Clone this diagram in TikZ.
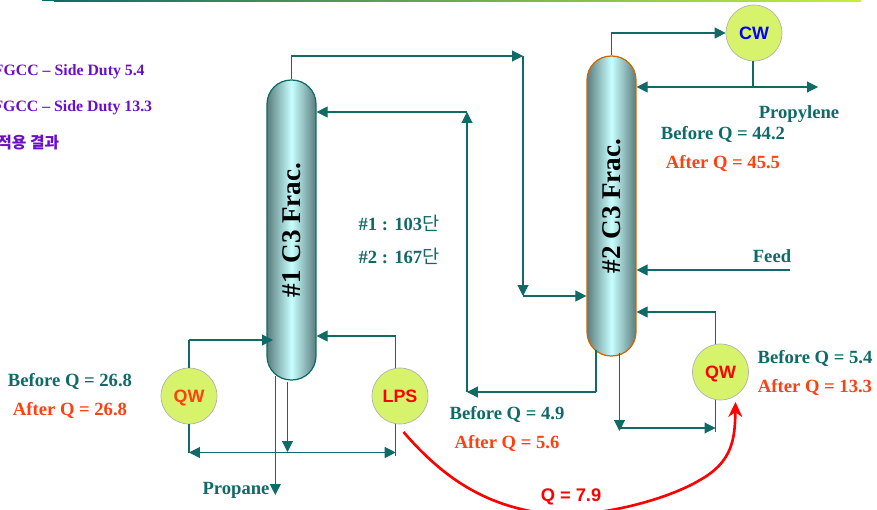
\documentclass[tikz,border=0pt]{standalone}
\usepackage{fontspec}
\usepackage{amsmath}
\setmainfont{Liberation Serif}
\newfontfamily\krfont{Noto Sans CJK KR}
\newfontfamily\labelfont{Liberation Sans}
\usetikzlibrary{arrows.meta}
\definecolor{flowteal}{HTML}{0F6A68}
\definecolor{afterred}{HTML}{FF4010}
\definecolor{duty}{HTML}{6A0FC8}
\definecolor{utilfill}{HTML}{D7F26B}
\definecolor{colfill}{HTML}{C8FFFF}
\definecolor{coledge}{HTML}{5C7D7E}
\definecolor{barstart}{HTML}{0F6A68}
\definecolor{barend}{HTML}{C8EE38}
\tikzset{
  flowline/.style={color=flowteal, line width=0.6pt, >={Triangle[length=0.22cm,width=0.22cm]}},
  tower/.style={rectangle, rounded corners=0.48cm, minimum width=0.98cm, minimum height=6cm,
    left color=coledge, right color=coledge, middle color=colfill, line width=0.7pt,
    font=\bfseries\fontsize{15.4}{16}\selectfont, inner sep=0pt},
  util/.style={circle, draw=black!30, fill=utilfill, minimum size=1.12cm, inner sep=0pt,
    text height=7.3pt, text depth=0pt,
    font=\labelfont\bfseries\fontsize{10.2}{12}\selectfont},
  beforeq/.style={color=flowteal, inner sep=0pt, yshift=-0.03cm, font=\bfseries\fontsize{10.6}{12}\selectfont},
  afterq/.style={color=afterred, inner sep=0pt, yshift=-0.03cm, font=\bfseries\fontsize{10.6}{12}\selectfont},
  dutytext/.style={color=duty, inner sep=0pt, anchor=east, yshift=-0.03cm, font=\bfseries\fontsize{9}{11}\selectfont}
}
\begin{document}
\begin{tikzpicture}[x=0.02cm, y=-0.02cm]
  \path[use as bounding box, clip] (0, 0) rectangle (877, 510);

  % top rule
  \fill[barstart] (42, 0) rectangle (54, 1);
  \fill[left color=barstart, right color=barend] (54, 0) rectangle (861, 2);

  % towers
  \node (tower1) at (291.5, 230) [tower, draw=flowteal] {\rotatebox{90}{\#1 C3 Frac.}};
  \node (tower2) at (611.5, 206) [tower, draw=orange!80!black] {\rotatebox{90}{\#2 C3 Frac.}};

  % utilities
  \node (qw1) at (189, 396) [util, text=afterred] {QW};
  \node (lps) at (400, 396) [util, text=red] {LPS};
  \node (qw2) at (720.5, 372) [util, text=red] {QW};
  \node (cw) at (754, 33) [util, text=blue] {CW};

  % free ends and bends
  \coordinate (over1) at (523, 56);
  \coordinate (over2) at (523, 296);
  \coordinate (ret1) at (467, 112);
  \coordinate (ret2) at (467, 392);
  \coordinate (tray1a) at (596, 392);
  \coordinate (tray1b) at (596, 350);
  \coordinate (bot2a) at (619.5, 353);
  \coordinate (bot2b) at (619.5, 431);
  \coordinate (bot2c) at (619.5, 428);
  \coordinate (qw2down) at (715.5, 400);
  \coordinate (qw2end) at (715.5, 432);
  \coordinate (qw2mid) at (715.5, 428);
  \coordinate (qw2up) at (715.5, 344);
  \coordinate (qw2top) at (715.5, 312);
  \coordinate (cwdown) at (753, 61);
  \coordinate (cwmid) at (753, 87);
  \coordinate (propylene) at (818, 87);
  \coordinate (feedin) at (790, 270);
  \coordinate (qw1top) at (189, 340);
  \coordinate (qw1tip) at (273, 340);
  \coordinate (qw1low) at (189, 452.5);
  \coordinate (lpsup) at (395.7, 368);
  \coordinate (lpstop) at (395.7, 336);
  \coordinate (lpsdown) at (395.7, 424);
  \coordinate (lpslow) at (395.7, 452.5);
  \coordinate (lpsend) at (395.7, 456);
  \coordinate (prod1a) at (275.3, 376);
  \coordinate (prod1b) at (275.3, 495);
  \coordinate (bot1a) at (287.5, 382);
  \coordinate (bot1b) at (287.5, 452);

  % tower 1 overhead to tower 2
  \draw[flowline, ->] (tower1.north) |- (over1);
  \draw[flowline, ->] (over1) -- (over2);
  \draw[flowline, ->] (over2) -- (over2 -| tower2.west);

  % tower 2 side draw back to tower 1
  \draw[flowline] (tray1b) -- (tray1a);
  \draw[flowline, ->] (tray1a) -- (ret2);
  \draw[flowline, ->] (ret2) -- (ret1);
  \draw[flowline, ->] (ret1) -- (ret1 -| tower1.east);

  % tower 2 top
  \draw[flowline, ->] (tower2.north) |- (cw.west);
  \draw[flowline] (cwdown) -- (cwmid);
  \draw[flowline, <->] (cwmid -| tower2.east) -- (propylene);
  \draw[flowline, ->] (feedin) -- (feedin -| tower2.east);

  % tower 2 reboiler
  \draw[flowline, ->] (bot2a) -- (bot2b);
  \draw[flowline, ->] (bot2c) -- (qw2mid);
  \draw[flowline] (qw2down) -- (qw2end);
  \draw[flowline] (qw2up) -- (qw2top);
  \draw[flowline, ->] (qw2top) -- (qw2top -| tower2.east);

  % tower 1 reboilers
  \draw[flowline] (qw1.north) -- (qw1top);
  \draw[flowline, ->] (qw1top) -- (qw1tip);
  \draw[flowline] (lpsup) -- (lpstop);
  \draw[flowline, ->] (lpstop) -- (lpstop -| tower1.east);
  \draw[flowline] (qw1.south) -- (qw1low);
  \draw[flowline] (lpsdown) -- (lpsend);
  \draw[flowline, <->] (qw1low) -- (lpslow);
  \draw[flowline, ->] (bot1a) -- (bot1b);
  \draw[flowline, ->] (prod1a) -- (prod1b);

  % heat integration
  \coordinate (qstart) at (403.5, 432);
  \coordinate (qlow) at (560, 515);
  \coordinate (qbend) at (700, 480);
  \coordinate (qend) at (735.5, 402);
  \draw[red, line width=1.5pt, -{Stealth[length=0.3cm,width=0.28cm]}]
    (qstart) .. controls (445, 480) and (490, 510) .. (qlow)
    .. controls (610, 515) and (670, 498) .. (qbend)
    .. controls (732, 462) and (735, 440) .. (qend);
  \node (qheat) at (571, 497) [red, inner sep=0pt, font=\labelfont\bfseries\fontsize{10.4}{12}\selectfont] {Q = 7.9};

  % labels
  \node (duty1) at (145, 70) [dutytext] {FGCC -- Side Duty 5.4};
  \node (duty2) at (152.5, 106) [dutytext] {FGCC -- Side Duty 13.3};
  \node (duty3) at (59.5, 141) [dutytext] {{\krfont 적용 결과}};
  \node (trays1) at (399, 222) [beforeq] {\#1 : 103{\krfont\mdseries 단}};
  \node (trays2) at (399, 255) [beforeq] {\#2 : 167{\krfont\mdseries 단}};
  \node (propane) at (236, 489) [beforeq] {Propane};
  \node (propyl) at (799, 113) [beforeq] {Propylene};
  \node (feed) at (772, 255) [beforeq] {Feed};
  \node (before1) at (70, 380) [beforeq] {Before Q = 26.8};
  \node (after1) at (70, 409) [afterq] {After Q = 26.8};
  \node (before2) at (507, 413) [beforeq] {Before Q = 4.9};
  \node (after2) at (507, 442) [afterq] {After Q = 5.6};
  \node (before3) at (815, 357) [beforeq] {Before Q = 5.4};
  \node (after3) at (815, 386) [afterq] {After Q = 13.3};
  \node (before4) at (723, 133) [beforeq] {Before Q = 44.2};
  \node (after4) at (723, 162) [afterq] {After Q = 45.5};
\end{tikzpicture}
\end{document}
